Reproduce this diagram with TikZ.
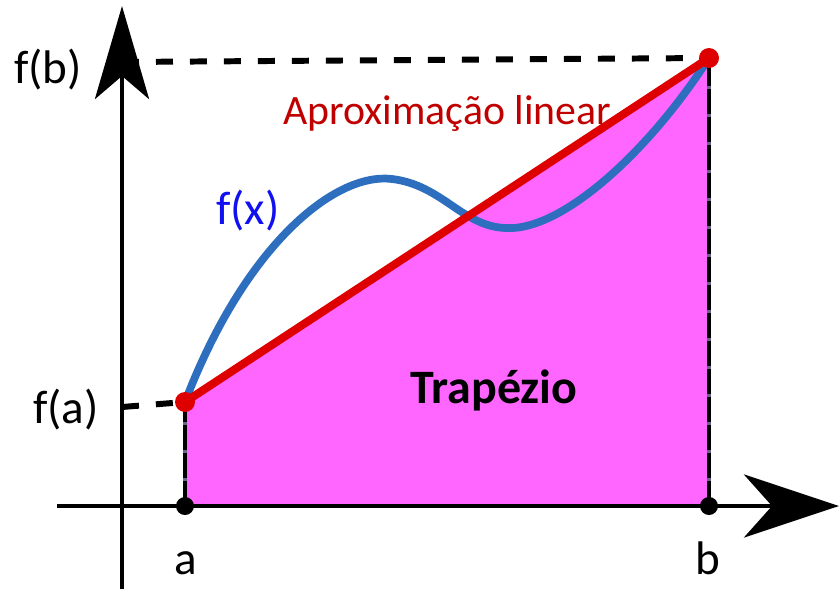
\documentclass[tikz,border=0pt]{standalone}
\usepackage{fontspec}
\setmainfont{Carlito}
\usepackage{tikz}
\usetikzlibrary{arrows.meta}
\definecolor{trappink}{RGB}{255,102,255}
\definecolor{approxred}{RGB}{222,0,0}
\definecolor{textred}{RGB}{192,0,0}
\definecolor{curveblue}{RGB}{46,110,190}
\definecolor{labblue}{RGB}{16,16,240}
\definecolor{edgegray}{RGB}{100,100,140}

\begin{document}
\begin{tikzpicture}[
  x=0.02cm, y=-0.02cm,
  axis/.style={line width=2.8pt, black},
  guide/.style={line width=3.4pt, black, dash pattern=on 0.34cm off 0.34cm},
  edge/.style={line width=2.2pt, black, dash pattern=on 0.5cm off 0.06cm},
  dot/.style={circle, fill=black, inner sep=0pt, minimum size=0.36cm},
  rdot/.style={circle, fill=approxred, inner sep=0pt, minimum size=0.40cm},
  lab/.style={font=\fontsize{26.8pt}{29pt}\selectfont, inner sep=0pt},
]
\useasboundingbox (0,0) rectangle (839,589);
% ---- points on the plot ----
\coordinate (xa) at (185,506);
\coordinate (xb) at (709,506);
\coordinate (pa) at (185,402);
\coordinate (pb) at (709,58);
% ---- trapezoid ----
\fill[trappink] (xa) -- (pa) -- (pb) -- (xb) -- cycle;
\draw[line width=2.2pt, edgegray] (xa) -- (pa) (xb) -- (pb);
\draw[edge] (xa) -- (pa);
\draw[edge] (xb) -- (pb);
% ---- axes ----
\draw[axis, -{Stealth[length=1.86cm, width=1.08cm, inset=0.46cm]}] (122,589) -- (122,6);
\draw[axis, -{Stealth[length=1.9cm, width=1.26cm, inset=0.56cm]}] (57,506) -- (839,506);
% ---- guide lines to the y axis ----
\draw[guide] (122,62) -- (pb);
\draw[guide] (122,407) -- (pa);
% ---- f(x) and linear approximation ----
\draw[curveblue, line width=4.4pt] (pa) .. controls (245,245) and (335,172) .. (392,179)
  .. controls (442,185) and (462,226) .. (505,228)
  .. controls (562,232) and (650,150) .. (pb);
\draw[approxred, line width=4.6pt] (pa) -- (pb);
% ---- dots ----
\node[dot] (da) at (xa) {};
\node[dot] (db) at (xb) {};
\node[rdot] (dfa) at (pa) {};
\node[rdot] (dfb) at (pb) {};
% ---- labels ----
\node[lab] (lfb) at (48,70) {f(b)};
\node[lab] (lfa) at (66,410) {f(a)};
\node[lab, anchor=base] (la) at (186,574) {a};
\node[lab, anchor=base] (lb) at (708,574) {b};
\node[lab, labblue] (lfx) at (248,211) {f(x)};
\node[lab, textred, anchor=base west, font=\fontsize{23.8pt}{26pt}\selectfont] (lapprox) at (283,124) {Aproximação linear};
\node[lab, anchor=base west, font=\bfseries\fontsize{27.3pt}{29pt}\selectfont] (ltrap) at (410,403) {Trapézio};
\end{tikzpicture}
\end{document}
